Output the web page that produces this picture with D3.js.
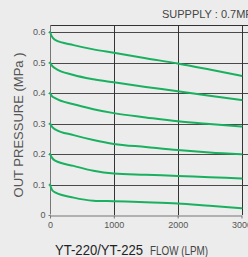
<!DOCTYPE html>
<html>
<head>
<meta charset="utf-8">
<script src="https://cdn.jsdelivr.net/npm/d3@7"></script>
<style>
  body { margin: 0; background: #ececec; }
  svg { display: block; }
</style>
</head>
<body>
<script>
// flow values (LPM)
var flow = [0, 30, 80, 370, 680, 1000, 1500, 2000, 2500, 3000];

// out pressure curves, one per set pressure
var p06 = [0.6, 0.585, 0.574, 0.557, 0.543, 0.532, 0.514, 0.497, 0.477, 0.456];
var p05 = [0.5, 0.490, 0.481, 0.459, 0.445, 0.435, 0.420, 0.406, 0.391, 0.377];
var p04 = [0.4, 0.390, 0.383, 0.363, 0.347, 0.334, 0.320, 0.307, 0.298, 0.290];
var p03 = [0.3, 0.290, 0.281, 0.262, 0.246, 0.233, 0.223, 0.213, 0.205, 0.199];
var p02 = [0.2, 0.188, 0.178, 0.161, 0.145, 0.136, 0.132, 0.128, 0.124, 0.120];
var p01 = [0.1, 0.083, 0.074, 0.057, 0.047, 0.045, 0.042, 0.038, 0.030, 0.022];

var series = [p06, p05, p04, p03, p02, p01];

var xTicks = [0, 1000, 2000, 3000];
var yTicks = [0, 0.1, 0.2, 0.3, 0.4, 0.5, 0.6];

var width = 248;
var height = 257;

var svg = d3.select("body")
	.append("svg")
	.attr("width", width)
	.attr("height", height);

svg.append("rect")
	.attr("width", width)
	.attr("height", height)
	.attr("fill", "#ececec");

var xScale = d3.scaleLinear()
	.domain([0, 3000])
	.range([50, 241.5]);

var yScale = d3.scaleLinear()
	.domain([0, 0.6])
	.range([215, 32]);

// grid
var grid = svg.append("g");

grid.selectAll(".hgrid")
	.data(yTicks.slice(1))
	.enter().append("line")
	.attr("x1", xScale(0))
	.attr("x2", width)
	.attr("y1", function(d) { return Math.round(yScale(d)) + 0.5; })
	.attr("y2", function(d) { return Math.round(yScale(d)) + 0.5; })
	.attr("stroke", "#4a4a4a")
	.attr("stroke-width", 1);

// top frame line
grid.append("line")
	.attr("x1", xScale(0))
	.attr("x2", width)
	.attr("y1", 25.5)
	.attr("y2", 25.5)
	.attr("stroke", "#333")
	.attr("stroke-width", 1);

grid.selectAll(".vgrid")
	.data(xTicks.slice(1))
	.enter().append("line")
	.attr("x1", function(d) { return Math.round(xScale(d)) + 0.5; })
	.attr("x2", function(d) { return Math.round(xScale(d)) + 0.5; })
	.attr("y1", 25)
	.attr("y2", yScale(0))
	.attr("stroke", "#333")
	.attr("stroke-width", 1);

// axes
var xAxis = svg.append("g")
	.attr("transform", "translate(0," + (Math.round(yScale(0)) + 0.5) + ")")
	.call(d3.axisBottom(xScale).tickValues(xTicks).tickSize(3).tickSizeOuter(0).tickPadding(3)
		.tickFormat(d3.format("d")));

var yAxis = svg.append("g")
	.attr("transform", "translate(" + (Math.round(xScale(0)) + 0.5) + ",0)")
	.call(d3.axisLeft(yScale).tickValues(yTicks).tickSize(2).tickSizeOuter(0).tickPadding(3)
		.tickFormat(function(d) { return d === 0 ? "0" : d3.format(".1f")(d); }));

yAxis.select(".domain").attr("d", "M0,25V" + (Math.round(yScale(0)) - 0.5));

svg.selectAll(".domain").attr("stroke", "#777");
svg.selectAll(".tick line").attr("stroke", "#777");
svg.selectAll(".tick text")
	.attr("fill", "#555")
	.style("font-family", "Liberation Sans, Arial, sans-serif")
	.style("font-size", "9px");

// curves
var line = d3.line()
	.x(function(d, i) { return xScale(flow[i]); })
	.y(function(d) { return yScale(d); })
	.curve(d3.curveMonotoneX);

svg.selectAll(".curve")
	.data(series)
	.enter().append("path")
	.attr("fill", "none")
	.attr("stroke", "#19b060")
	.attr("stroke-width", 2)
	.attr("stroke-linecap", "round")
	.attr("d", line);

// texts
svg.append("text")
	.attr("x", 162)
	.attr("y", 18)
	.attr("fill", "#444")
	.style("font-family", "Liberation Sans, Arial, sans-serif")
	.style("font-size", "11px")
	.text("SUPPPLY : 0.7MPa");

svg.append("text")
	.attr("transform", "translate(23,125) rotate(-90)")
	.attr("text-anchor", "middle")
	.attr("fill", "#555")
	.style("font-family", "Liberation Sans, Arial, sans-serif")
	.style("font-size", "13px")
	.text("OUT PRESSURE (MPa )");

svg.append("text")
	.attr("x", 55)
	.attr("y", 255)
	.attr("fill", "#222")
	.attr("textLength", 88)
	.attr("lengthAdjust", "spacingAndGlyphs")
	.style("font-family", "Liberation Sans Narrow, Liberation Sans, Arial, sans-serif")
	.style("font-size", "15px")
	.text("YT-220/YT-225");

svg.append("text")
	.attr("x", 150)
	.attr("y", 255)
	.attr("fill", "#444")
	.attr("textLength", 58)
	.attr("lengthAdjust", "spacingAndGlyphs")
	.style("font-family", "Liberation Sans Narrow, Liberation Sans, Arial, sans-serif")
	.style("font-size", "12px")
	.text("FLOW (LPM)");
</script>
</body>
</html>
